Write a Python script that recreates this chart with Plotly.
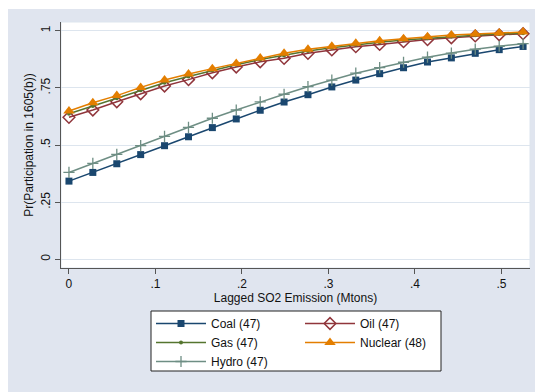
import numpy as np
import plotly.graph_objects as go

# Data
x_vals = list(np.round(np.linspace(0, 0.525, 20), 4))
coal = [0.342, 0.380, 0.418, 0.458, 0.497, 0.536, 0.576, 0.614, 0.652, 0.688,
        0.720, 0.754, 0.784, 0.812, 0.838, 0.863, 0.881, 0.901, 0.917, 0.931]
oil = [0.621, 0.653, 0.689, 0.724, 0.758, 0.786, 0.816, 0.841, 0.864, 0.879,
       0.901, 0.916, 0.930, 0.940, 0.952, 0.961, 0.969, 0.977, 0.982, 0.987]
gas = [0.637, 0.671, 0.705, 0.740, 0.772, 0.800, 0.827, 0.851, 0.874, 0.892,
       0.911, 0.925, 0.938, 0.949, 0.959, 0.967, 0.975, 0.980, 0.985, 0.989]
nuclear = [0.649, 0.685, 0.716, 0.752, 0.784, 0.811, 0.834, 0.857, 0.881, 0.901,
           0.919, 0.932, 0.945, 0.956, 0.965, 0.974, 0.981, 0.986, 0.990, 0.994]
hydro = [0.380, 0.420, 0.459, 0.497, 0.538, 0.577, 0.617, 0.653, 0.689, 0.722,
         0.755, 0.784, 0.814, 0.838, 0.862, 0.884, 0.902, 0.919, 0.932, 0.943]

names = ["Coal (47)", "Oil (47)", "Gas (47)", "Nuclear (48)", "Hydro (47)"]
legend_col = ["legend", "legend2", "legend", "legend2", "legend"]
x_ticks = [0, 0.1, 0.2, 0.3, 0.4, 0.5]
x_ticklabels = ["0", ".1", ".2", ".3", ".4", ".5"]
y_ticks = [0, 0.25, 0.5, 0.75, 1]
y_ticklabels = ["0", ".25", ".5", ".75", "1"]

W, H = 535, 392
L, R, T, B = 61, 5, 22, 124
pw, ph = W - L - R, H - T - B

def px2paper_x(px):
    return (px - L) / pw

def px2paper_y(py):
    return (H - B - py) / ph

fig = go.Figure()
styles = [
    (coal, "#1a476f", dict(symbol="square", size=7, color="#1a476f")),
    (oil, "#90353b", dict(symbol="diamond-open", size=9, color="#90353b", line=dict(width=1.5, color="#90353b"))),
    (gas, "#55752f", dict(symbol="circle", size=4, color="#55752f")),
    (nuclear, "#e37e00", dict(symbol="triangle-up", size=10, color="#e37e00")),
    (hydro, "#6e8e84", dict(symbol="cross-thin", size=8, color="#6e8e84", line=dict(width=1.3, color="#6e8e84"))),
]
for (ys, col, mk), nm, lg in zip(styles, names, legend_col):
    fig.add_trace(go.Scatter(x=x_vals, y=ys, mode="lines+markers", name=nm,
                             line=dict(color=col, width=1.5), marker=mk, legend=lg))

font = dict(family="Liberation Sans, Arial, sans-serif", size=12, color="#111111")
leg_common = dict(orientation="v", xanchor="left", yanchor="top",
                  bgcolor="rgba(0,0,0,0)", borderwidth=0, itemwidth=50,
                  font=font, traceorder="normal")

fig.update_layout(
    width=W, height=H,
    margin=dict(l=L, r=R, t=T, b=B, autoexpand=False),
    paper_bgcolor="white",
    plot_bgcolor="rgba(0,0,0,0)",
    font=font,
    showlegend=True,
    legend=dict(x=px2paper_x(151), y=px2paper_y(309), **leg_common),
    legend2=dict(x=px2paper_x(300), y=px2paper_y(309), **leg_common),
    xaxis=dict(range=[-0.0092, 0.533], tickvals=x_ticks, ticktext=x_ticklabels,
               showgrid=False, zeroline=False, showline=True, linecolor="#555555", linewidth=1,
               ticks="outside", ticklen=5, tickcolor="#555555",
               title=dict(text="Lagged SO2 Emission (Mtons)", standoff=2, font=font)),
    yaxis=dict(range=[-0.038, 1.038], tickvals=y_ticks, ticktext=y_ticklabels, tickangle=-90,
               showgrid=True, gridcolor="#dde5ee", gridwidth=1, zeroline=False,
               showline=True, linecolor="#555555", linewidth=1,
               ticks="outside", ticklen=5, tickcolor="#555555",
               title=dict(text="Pr(Participation in 1605(b))", standoff=3, font=font)),
    shapes=[
        dict(type="rect", xref="paper", yref="paper", layer="below",
             x0=px2paper_x(8), x1=px2paper_x(536), y0=px2paper_y(9), y1=px2paper_y(393),
             fillcolor="#e0e5ef", line=dict(width=0)),
        dict(type="rect", xref="paper", yref="paper", layer="below",
             x0=0, x1=1, y0=0, y1=1,
             fillcolor="white", line=dict(width=1, color="#dde5ee")),
        dict(type="rect", xref="paper", yref="paper", layer="below",
             x0=px2paper_x(151), x1=px2paper_x(441), y0=px2paper_y(311), y1=px2paper_y(371),
             fillcolor="white", line=dict(width=1, color="#222222")),
    ],
)

fig.write_html("out.html")
